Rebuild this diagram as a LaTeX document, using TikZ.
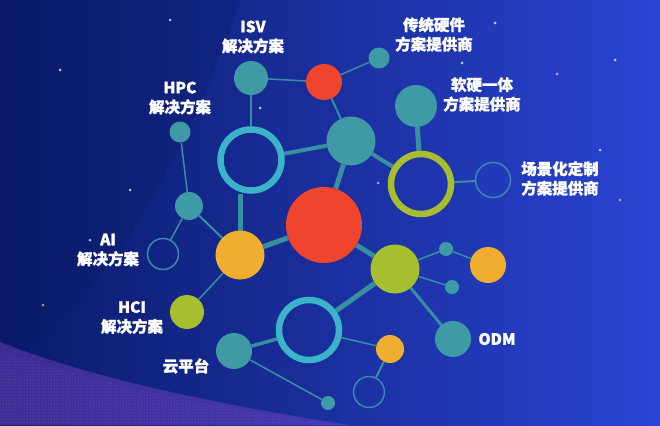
\documentclass[tikz,border=0pt]{standalone}
\usepackage{fontspec}
\newfontfamily\cjk{Noto Sans CJK SC}[BoldFeatures={FakeBold=1.2}]
\usetikzlibrary{patterns}
\definecolor{bgL}{HTML}{0A1A68}
\definecolor{bgR}{HTML}{2A44D4}
\definecolor{tealN}{HTML}{3E9BA6}
\definecolor{edgeC}{HTML}{3790A0}
\definecolor{ringC}{HTML}{3DB3C9}
\definecolor{redN}{HTML}{EE452C}
\definecolor{oraN}{HTML}{F0AE2F}
\definecolor{greN}{HTML}{A7BE2F}
\definecolor{thinR}{HTML}{3A8AB0}
\definecolor{purp}{HTML}{7A44C8}
\pgfdeclarelayer{bglayer}
\pgfdeclarelayer{edgelayer}
\pgfsetlayers{bglayer,edgelayer,main}
\tikzset{
  disc/.style={circle, inner sep=0pt, draw=none, minimum size=#1},
  tealdisc/.style={disc=#1, fill=tealN},
  reddisc/.style={disc=#1, fill=redN},
  oradisc/.style={disc=#1, fill=oraN},
  gredisc/.style={disc=#1, fill=greN},
  fatring/.style={circle, inner sep=0pt, minimum size=#1, line width=6.5pt},
  thinring/.style={circle, inner sep=0pt, minimum size=#1, draw=thinR, line width=1.5pt},
  lbl/.style={text=white, align=center, font=\cjk\bfseries\fontsize{15.5}{19.5}\selectfont, inner sep=0pt},
  link/.style={draw=edgeC, line width=#1},
  star/.style={circle, fill=#1, inner sep=0pt, minimum size=3pt, opacity=0.7}
}
\begin{document}
\begin{tikzpicture}[x=1pt,y=-1pt]
\useasboundingbox (0,0) rectangle (660,425);
\begin{pgfonlayer}{bglayer}
% background
\fill[left color=bgL, right color=bgR] (0,0) rectangle (660,425);
\fill[bgL, opacity=0.3] (0,0) -- (240,0) .. controls (190,150) and (110,300) .. (0,370) -- cycle;
\fill[purp, opacity=0.45] (0,342) .. controls (90,378) and (220,405) .. (350,425) -- (0,425) -- cycle;
\fill[pattern=dots, pattern color=purp!70!white, opacity=0.6] (0,350) .. controls (90,384) and (220,408) .. (340,425) -- (0,425) -- cycle;
% stars
\foreach \p/\c in {{(557,74)}/pink, {(495,23)}/white, {(462,63)}/white, {(378,183)}/pink, {(346,200)}/pink, {(60,70)}/white, {(130,190)}/white, {(90,240)}/white, {(43,305)}/pink, {(260,108)}/white, {(600,150)}/white, {(615,60)}/white, {(170,20)}/white, {(620,200)}/pink}
  {\node[star=\c] at \p {};}
\end{pgfonlayer}

% nodes
\node[tealdisc=34pt]  (isv)   at (251,78)  {};
\node[reddisc=36pt]   (redS)  at (324,82)  {};
\node[tealdisc=21pt]  (tTop)  at (379,58)  {};
\node[tealdisc=21pt]  (hpc)   at (180,132) {};
\node[fatring=61pt, draw=ringC] (ringL) at (251,160) {};
\node[tealdisc=49pt]  (tMid)  at (351,141) {};
\node[tealdisc=42pt]  (sy)    at (416,106) {};
\node[fatring=60pt, draw=greN]  (ringG) at (421,184) {};
\node[thinring=35pt]  (ringR) at (493,180) {};
\node[reddisc=76pt]   (redC)  at (324,225) {};
\node[tealdisc=28pt]  (tL)    at (189,206) {};
\node[thinring=31pt]  (ringAI) at (163,254) {};
\node[oradisc=49pt]   (yel)   at (240,255) {};
\node[gredisc=49pt]   (grM)   at (395,269) {};
\node[tealdisc=14pt]  (tS1)   at (446,249) {};
\node[oradisc=36pt]   (orR)   at (488,265) {};
\node[tealdisc=14pt]  (tS2)   at (452,287) {};
\node[gredisc=34pt]   (hci)   at (187,312) {};
\node[fatring=60pt, draw=ringC] (ringB) at (309,330) {};
\node[tealdisc=36pt]  (odm)   at (453,339) {};
\node[tealdisc=36pt]  (cloud) at (234,351) {};
\node[oradisc=28pt]   (orS)   at (390,349) {};
\node[thinring=31pt]  (ringB2) at (369,392) {};
\node[tealdisc=14pt]  (tS3)   at (328,403) {};

% connectors
\begin{pgfonlayer}{edgelayer}
\draw[link=1.5pt] (isv) -- (redS);
\draw[link=1.5pt] (redS) -- (tTop);
\draw[link=2pt] (redS) -- (tMid);
\draw[link=2pt] (isv) -- (ringL);
\draw[link=4pt] (ringL) -- (tMid);
\draw[link=4pt] (tMid) -- (ringG);
\draw[link=5pt] (tMid) -- (redC);
\draw[link=5pt] (sy) -- (ringG);
\draw[link=2pt] (ringG) -- (ringR);
\draw[link=1.5pt] (hpc) -- (tL);
\draw[link=1.5pt] (tL) -- (ringAI);
\draw[link=2pt] (tL) -- (yel);
\draw[link=5pt] (yel.center) -- (yel |- ringL.south);
\draw[link=5pt] (yel) -- (redC);
\draw[link=1.5pt] (yel) -- (hci);
\draw[link=5pt] (redC) -- (grM);
\draw[link=1.5pt] (grM) -- (tS1);
\draw[link=1.5pt] (tS1) -- (orR);
\draw[link=1.5pt] (grM) -- (tS2);
\draw[link=3pt] (grM) -- (odm);
\draw[link=5pt] (grM) -- (ringB);
\draw[link=3.5pt] (ringB) -- (cloud);
\draw[link=1.5pt] (ringB) -- (orS);
\draw[link=2pt] (orS) -- (ringB2);
\draw[link=1.5pt] (cloud) -- (tS3);
\end{pgfonlayer}

% labels
\node[lbl] (lISV)  at (253,37)    {ISV\\解决方案};
\node[lbl] (lHPC)  at (180,98)    {HPC\\解决方案};
\node[lbl] (lCT)   at (434,34.5)  {传统硬件\\方案提供商};
\node[lbl] (lRY)   at (482,94.5)  {软硬一体\\方案提供商};
\node[lbl] (lCJ)   at (560,178.5) {场景化定制\\方案提供商};
\node[lbl] (lAI)   at (108,250)   {AI\\解决方案};
\node[lbl] (lHCI)  at (132,317.5) {HCI\\解决方案};
\node[lbl] (lYun)  at (186,366)   {云平台};
\node[lbl] (lODM)  at (497,339)   {ODM};
\end{tikzpicture}
\end{document}
